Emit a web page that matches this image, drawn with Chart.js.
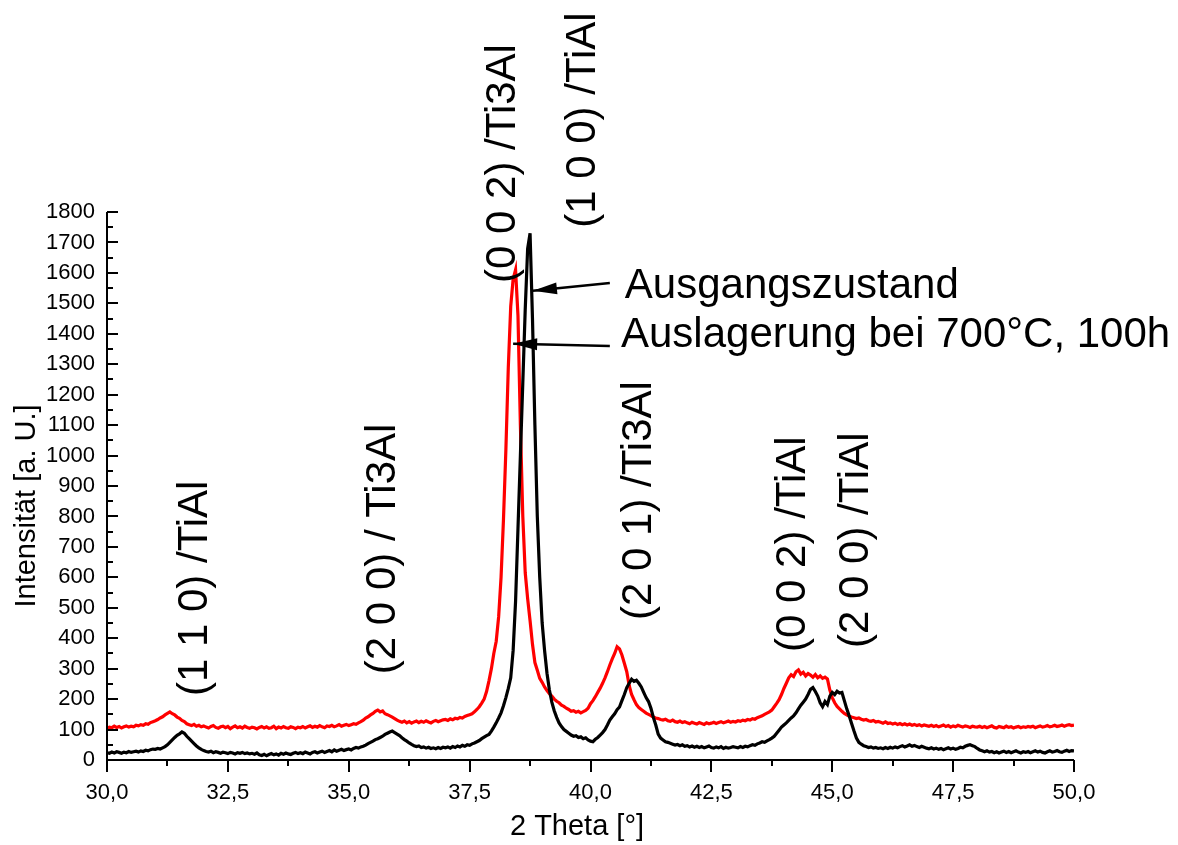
<!DOCTYPE html>
<html lang="de">
<head>
    <meta charset="UTF-8">
    <title>XRD TiAl / Ti3Al</title>
    <script src="https://cdn.jsdelivr.net/npm/chart.js"></script>
    <style>
        body {
            margin: 0;
            background-color: #fff;
        }
        .chart-container {
            width: 1178px;
            height: 845px;
        }
    </style>
</head>
<body>
    <div class="chart-container">
        <canvas id="xrdChart" width="1178" height="845"></canvas>
    </div>
    <script>
        // 2 Theta sampling: 30,0 .. 50,0 in 0,05 steps
        const thetaStart = 30.0;
        const thetaStep = 0.05;

        // Ausgangszustand (black), one row per degree
        const ausgangszustand = [
            24, 22, 26, 23, 27, 25, 22, 26, 24, 28, 25, 27, 29, 26, 30, 28, 32, 30, 34, 36,
            35, 38, 36, 40, 44, 50, 58, 66, 74, 81, 86, 92, 88, 78, 70, 62, 54, 46, 40, 35,
            31, 28, 26, 29, 24, 27, 25, 22, 26, 24, 21, 25, 23, 20, 24, 22, 25, 21, 23, 20,
            22, 19, 23, 17, 15, 19, 14, 18, 21, 17, 20, 16, 22, 19, 23, 20, 18, 22, 25, 21,
            24, 21, 26, 23, 20, 25, 27, 23, 26, 29, 25, 28, 31, 27, 33, 29, 32, 35, 31, 34,
            36, 33, 38, 41, 39, 43, 45, 49, 54, 58, 62, 67, 70, 74, 78, 84, 88, 92, 95, 90,
            85, 80, 73, 67, 62, 56, 51, 47, 44, 46, 41, 43, 39, 42, 38, 40, 37, 41, 38, 42,
            40, 43, 39, 44, 41, 46, 43, 48, 45, 50, 48, 53, 56, 60, 64, 70, 75, 80, 84, 95,
            108, 122, 138, 155, 178, 205, 235, 270, 360, 520, 760, 1000, 1240, 1480, 1680, 1730, 1450, 1100, 800, 600,
            450, 360, 285, 230, 190, 162, 140, 122, 110, 100, 94, 88, 82, 78, 80, 74, 76, 70, 73, 66,
            62, 60, 68, 74, 82, 90, 100, 115, 131, 142, 152, 165, 174, 195, 215, 238, 252, 265, 258, 262,
            252, 240, 222, 205, 192, 170, 140, 115, 85, 72, 66, 60, 58, 55, 52, 49, 51, 47, 50, 45,
            47, 43, 46, 42, 45, 41, 44, 40, 43, 46, 41, 39, 43, 40, 44, 38, 42, 39, 41, 44,
            42, 40, 44, 41, 45, 43, 47, 50, 48, 53, 56, 60, 58, 63, 67, 72, 78, 88, 98, 108,
            115, 122, 130, 138, 145, 155, 168, 180, 190, 200, 215, 232, 238, 225, 210, 188, 175, 192, 182, 210,
            222, 215, 226, 220, 222, 195, 168, 145, 120, 95, 72, 58, 52, 47, 44, 41, 43, 39, 41, 38,
            40, 37, 41, 38, 42, 39, 43, 40, 44, 47, 43, 46, 50, 45, 48, 44, 41, 45, 42, 39,
            37, 40, 36, 39, 35, 38, 34, 37, 40, 36, 39, 35, 38, 42, 40, 45, 48, 50, 47, 44,
            38, 33, 30, 27, 30, 26, 28, 24, 27, 23, 26, 29, 25, 28, 24, 27, 30, 26, 23, 27,
            25, 28, 24, 27, 30, 26, 29, 25, 23, 27, 30, 26, 28, 31, 27, 25, 29, 32, 28, 31,
            30
        ];

        // Auslagerung bei 700°C, 100h (red)
        const auslagerung = [
            104, 108, 106, 111, 107, 110, 105, 109, 112, 108, 111, 109, 114, 112, 116, 114, 119, 117, 123, 126,
            129, 133, 138, 142, 148, 153, 158, 152, 148, 141, 137, 130, 126, 119, 116, 113, 117, 111, 114, 109,
            112, 108, 105, 110, 113, 107, 104, 109, 111, 106, 110, 103, 108, 112, 106, 109, 105, 111, 107, 104,
            108, 106, 102, 107, 110, 105, 109, 104, 106, 111, 103, 108, 105, 110, 106, 104, 109, 107, 103, 108,
            106, 110, 105, 109, 112, 107, 111, 108, 113, 109, 106, 112, 110, 114, 109, 112, 116, 111, 114, 117,
            113, 116, 119, 117, 122, 126, 131, 138, 142, 148, 153, 160, 164, 158, 161, 152, 149, 145, 141, 136,
            131, 127, 124, 128, 122, 126, 121, 125, 128, 123, 127, 124, 129, 125, 122, 127, 130, 126, 129, 132,
            133, 130, 135, 132, 137, 135, 140, 138, 143, 146, 149, 152, 158, 166, 175, 187, 200, 225, 260, 300,
            350, 390, 470, 600, 790, 1020, 1290, 1490, 1580, 1610, 1460, 1100, 800, 615, 530, 458, 380, 320, 295, 268,
            255, 240, 228, 218, 210, 200, 193, 188, 180, 176, 170, 166, 160, 162, 157, 160, 155, 159, 163, 170,
            185, 195, 208, 222, 236, 252, 270, 290, 312, 332, 350, 372, 365, 345, 318, 290, 245, 215, 198, 182,
            172, 166, 160, 154, 150, 146, 141, 138, 136, 133, 131, 134, 129, 127, 131, 126, 124, 128, 123, 126,
            122, 119, 124, 121, 118, 123, 120, 117, 122, 119, 121, 124, 120, 123, 126, 122, 125, 128, 124, 127,
            125, 129, 127, 131, 129, 133, 131, 136, 134, 139, 142, 145, 150, 154, 158, 164, 175, 186, 198, 215,
            235, 252, 270, 280, 274, 290, 296, 282, 288, 276, 284, 279, 272, 281, 270, 276, 268, 272, 266, 230,
            205, 188, 176, 168, 160, 153, 148, 144, 141, 139, 136, 138, 134, 131, 133, 129, 127, 130, 125, 127,
            124, 121, 125, 120, 122, 118, 121, 117, 120, 116, 119, 115, 118, 114, 117, 113, 116, 112, 115, 113,
            111, 114, 110, 113, 109, 112, 115, 110, 113, 108, 112, 109, 114, 111, 108, 112, 110, 107, 111, 109,
            108, 111, 107, 110, 106, 109, 112, 107, 105, 110, 108, 106, 111, 107, 109, 105, 108, 110, 106, 109,
            107, 110, 108, 111, 106, 109, 112, 108, 110, 113, 109, 111, 114, 110, 112, 115, 111, 114, 116, 113,
            115
        ];

        // peak labels: text, 2 Theta of the column, intensity where the text starts
        const peakTexts = ['(1 1 0) /TiAl', '(2 0 0) / Ti3Al', '(0 0 2) /Ti3Al', '(1 0 0) /TiAl',
                           '(2 0 1) /Ti3Al', '(0 0 2) /TiAl', '(2 0 0) /TiAl'];
        const peakTheta = [31.82, 35.71, 38.19, 39.85, 41.02, 44.19, 45.51];
        const peakStart = [210, 282, 1567, 1748, 460, 355, 368];

        // arrows pointing to the curves: tail and tip in data units
        const arrowTexts = ['Ausgangszustand', 'Auslagerung bei 700°C, 100h'];
        const arrowTextAt = [[40.71, 1518], [40.63, 1357]];
        const arrowTail = [[40.40, 1567], [40.40, 1360]];
        const arrowTip = [[38.81, 1541], [38.40, 1367]];

        const FONT = '"Liberation Sans", Arial, sans-serif';

        const theta = [];
        for (let i = 0; i < ausgangszustand.length; i++) {
            theta.push(thetaStart + i * thetaStep);
        }

        const annotationPlugin = {
            id: 'xrdAnnotations',
            afterDraw(chart) {
                const ctx = chart.ctx;
                const x = chart.scales.x;
                const y = chart.scales.y;
                const a = chart.chartArea;
                ctx.save();

                // axes + ticks (y ticks inward, x ticks outward)
                ctx.strokeStyle = '#000';
                ctx.lineWidth = 2;
                ctx.beginPath();
                ctx.moveTo(a.left, a.top);
                ctx.lineTo(a.left, a.bottom);
                ctx.lineTo(a.right, a.bottom);
                ctx.stroke();
                for (let v = 0; v <= 1800; v += 50) {
                    const py = Math.round(y.getPixelForValue(v));
                    ctx.beginPath();
                    ctx.moveTo(a.left, py);
                    ctx.lineTo(a.left + (v % 100 === 0 ? 11 : 6), py);
                    ctx.stroke();
                }
                for (let t = 30; t <= 50; t += 1.25) {
                    const px = Math.round(x.getPixelForValue(t));
                    ctx.beginPath();
                    ctx.moveTo(px, a.bottom);
                    ctx.lineTo(px, a.bottom + (t % 2.5 === 0 ? 12 : 6));
                    ctx.stroke();
                }

                // axis titles
                ctx.fillStyle = '#000';
                ctx.font = '29px ' + FONT;
                ctx.textAlign = 'center';
                ctx.textBaseline = 'middle';
                ctx.fillText('2 Theta [°]', 577, 827);
                ctx.save();
                ctx.translate(27, 506);
                ctx.rotate(-Math.PI / 2);
                ctx.fillText('Intensität [a. U.]', 0, 0);
                ctx.restore();

                // rotated peak labels
                ctx.font = '42px ' + FONT;
                ctx.textAlign = 'left';
                peakTexts.forEach((txt, i) => {
                    ctx.save();
                    ctx.translate(x.getPixelForValue(peakTheta[i]), y.getPixelForValue(peakStart[i]));
                    ctx.rotate(-Math.PI / 2);
                    ctx.fillText(txt, 0, 0);
                    ctx.restore();
                });

                // arrows with text
                ctx.textBaseline = 'alphabetic';
                arrowTexts.forEach((txt, i) => {
                    const tx = x.getPixelForValue(arrowTail[i][0]);
                    const ty = y.getPixelForValue(arrowTail[i][1]);
                    const hx = x.getPixelForValue(arrowTip[i][0]);
                    const hy = y.getPixelForValue(arrowTip[i][1]);
                    const ang = Math.atan2(hy - ty, hx - tx);
                    ctx.lineWidth = 2.5;
                    ctx.beginPath();
                    ctx.moveTo(tx, ty);
                    ctx.lineTo(hx, hy);
                    ctx.stroke();
                    ctx.beginPath();
                    ctx.moveTo(hx, hy);
                    ctx.lineTo(hx - 24 * Math.cos(ang) + 6 * Math.sin(ang), hy - 24 * Math.sin(ang) - 6 * Math.cos(ang));
                    ctx.lineTo(hx - 24 * Math.cos(ang) - 6 * Math.sin(ang), hy - 24 * Math.sin(ang) + 6 * Math.cos(ang));
                    ctx.closePath();
                    ctx.fill();
                    ctx.fillText(txt, x.getPixelForValue(arrowTextAt[i][0]), y.getPixelForValue(arrowTextAt[i][1]));
                });

                ctx.restore();
            }
        };

        const tickFont = { family: FONT, size: 22 };

        new Chart(document.getElementById('xrdChart'), {
            type: 'line',
            data: {
                datasets: [{
                    label: 'Ausgangszustand',
                    data: theta.map((t, i) => ({ x: t, y: ausgangszustand[i] })),
                    borderColor: '#000000',
                    backgroundColor: '#000000'
                }, {
                    label: 'Auslagerung bei 700°C, 100h',
                    data: theta.map((t, i) => ({ x: t, y: auslagerung[i] })),
                    borderColor: '#ff0000',
                    backgroundColor: '#ff0000'
                }]
            },
            options: {
                responsive: false,
                animation: false,
                layout: { padding: { top: 212, right: 104, left: 0, bottom: 0 } },
                elements: {
                    point: { radius: 0 },
                    line: { borderWidth: 3.2, tension: 0 }
                },
                plugins: {
                    legend: { display: false },
                    tooltip: { enabled: false }
                },
                scales: {
                    x: {
                        type: 'linear',
                        min: 30,
                        max: 50,
                        grid: { display: false, drawTicks: false },
                        border: { display: false },
                        ticks: {
                            stepSize: 2.5,
                            padding: 20,
                            color: '#000',
                            font: tickFont,
                            maxRotation: 0,
                            autoSkip: false,
                            callback: v => v.toFixed(1).replace('.', ',')
                        },
                        afterFit: scale => { scale.height = 85; }
                    },
                    y: {
                        min: 0,
                        max: 1800,
                        grid: { display: false, drawTicks: false },
                        border: { display: false },
                        ticks: {
                            stepSize: 100,
                            padding: 12,
                            color: '#000',
                            font: tickFont,
                            callback: v => String(v)
                        },
                        afterFit: scale => { scale.width = 107; }
                    }
                }
            },
            plugins: [annotationPlugin]
        });
    </script>
</body>
</html>
